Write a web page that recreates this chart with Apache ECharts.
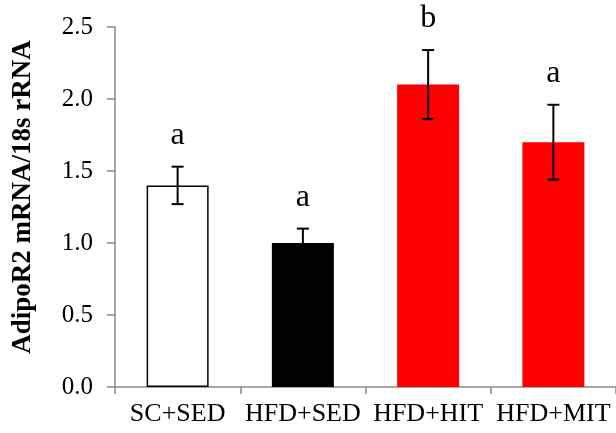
<!DOCTYPE html>
<html>
<head>
<meta charset="utf-8">
<script src="https://cdn.jsdelivr.net/npm/echarts@6/dist/echarts.min.js"></script>
<style>
html,body{margin:0;padding:0;background:#fff;}
#chart{width:616px;height:433px;}
</style>
</head>
<body>
<div id="chart"></div>
<script>
var categories = ['SC+SED', 'HFD+SED', 'HFD+HIT', 'HFD+MIT'];
var means = [1.4, 1.0, 2.1, 1.7];
var errors = [0.13, 0.10, 0.24, 0.26];
var letters = ['a', 'a', 'b', 'a'];
var barColors = ['#ffffff', '#000000', '#ff0000', '#ff0000'];
var yTitle = 'AdipoR2 mRNA/18s rRNA';

var FONT = "'Liberation Serif', 'Times New Roman', serif";
var chart = echarts.init(document.getElementById('chart'), null, {renderer: 'canvas'});

var barData = means.map(function (v, i) {
  return {
    value: v,
    itemStyle: {
      color: barColors[i],
      borderColor: '#000000',
      borderWidth: i === 0 ? 1.5 : 0
    }
  };
});
var errData = means.map(function (v, i) { return [i, v, errors[i], letters[i]]; });

chart.setOption({
  animation: false,
  backgroundColor: '#ffffff',
  grid: {left: 115, right: -3, top: 27, bottom: 46, containLabel: false},
  xAxis: {
    type: 'category',
    data: categories,
    boundaryGap: true,
    axisLine: {show: true, lineStyle: {color: '#8a8a8a', width: 1.5}},
    axisTick: {show: true, length: 7, inside: false, alignWithLabel: false, lineStyle: {color: '#8a8a8a', width: 1.5}},
    axisLabel: {interval: 0, margin: 14, color: '#000', fontFamily: FONT, fontSize: 26}
  },
  yAxis: {
    type: 'value',
    min: 0,
    max: 2.5,
    interval: 0.5,
    name: yTitle,
    nameLocation: 'middle',
    nameRotate: 90,
    nameGap: 78,
    nameTextStyle: {fontFamily: FONT, fontSize: 27, fontWeight: 'bold', color: '#000', padding: [0, 0, 0, 20]},
    splitLine: {show: false},
    axisLine: {show: true, lineStyle: {color: '#8a8a8a', width: 1.5}},
    axisTick: {show: true, length: 8, inside: false, lineStyle: {color: '#8a8a8a', width: 1.5}},
    axisLabel: {margin: 22, color: '#000', fontFamily: FONT, fontSize: 25,
      formatter: function (v) { return v.toFixed(1); }}
  },
  series: [
    {
      type: 'bar',
      data: barData,
      barWidth: 62,
      silent: true
    },
    {
      type: 'custom',
      data: errData,
      z: 10,
      silent: true,
      renderItem: function (params, api) {
        var idx = api.value(0);
        var m = api.value(1);
        var e = api.value(2);
        var top = api.coord([idx, m + e]);
        var bot = api.coord([idx, m - e]);
        var x = top[0];
        var hw = 6;
        var style = {stroke: '#000', lineWidth: 2};
        return {
          type: 'group',
          children: [
            {type: 'line', shape: {x1: x, y1: top[1], x2: x, y2: bot[1]}, style: style},
            {type: 'line', shape: {x1: x - hw, y1: top[1], x2: x + hw, y2: top[1]}, style: style},
            {type: 'line', shape: {x1: x - hw, y1: bot[1], x2: x + hw, y2: bot[1]}, style: style},
            {type: 'text', x: x, y: top[1] - 15,
              style: {text: letters[params.dataIndex], fill: '#000', font: '32px ' + FONT,
                textAlign: 'center', textVerticalAlign: 'bottom'}}
          ]
        };
      }
    }
  ]
});
</script>
</body>
</html>
